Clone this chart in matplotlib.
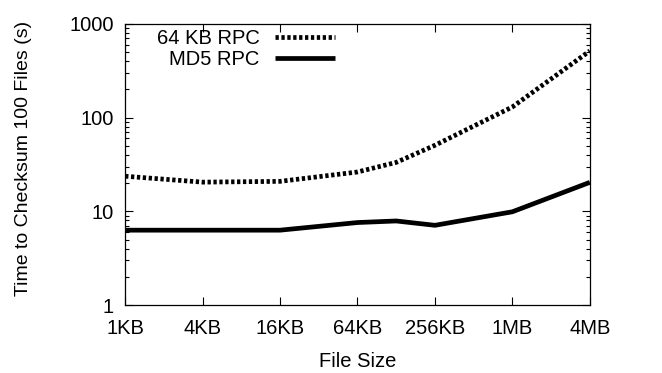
import matplotlib
matplotlib.use("Agg")
import matplotlib.pyplot as plt
from matplotlib.ticker import FixedLocator, LogLocator, NullFormatter, NullLocator

plt.rcParams['font.family'] = ['Liberation Sans', 'DejaVu Sans']

# File sizes in KB
rpc64_sizes = [1, 4, 16, 64, 128, 256, 1024, 4096]
rpc64_times = [23.7, 20.5, 20.9, 26.3, 33.3, 50.7, 130, 515]
md5_sizes = [1, 16, 64, 128, 256, 1024, 4096]
md5_times = [6.3, 6.3, 7.6, 7.9, 7.1, 9.9, 20.4]

xtick_vals = [1, 4, 16, 64, 256, 1024, 4096]
xtick_labels = ['1KB', '4KB', '16KB', '64KB', '256KB', '1MB', '4MB']
ytick_vals = [1, 10, 100, 1000]
ytick_labels = ['1', '10', '100', '1000']

FS = 14.5

fig = plt.figure(figsize=(6.62, 3.73), dpi=100)
ax = fig.add_axes([0.189, 0.182, 0.702, 0.754])

ax.plot(rpc64_sizes, rpc64_times, color='black', lw=3.4,
        linestyle=(0, (0.7, 0.55)), dash_capstyle='butt', label='64 KB RPC')
ax.plot(md5_sizes, md5_times, color='black', lw=3.4, solid_capstyle='butt',
        label='MD5 RPC')

ax.set_xscale('log', base=2)
ax.set_yscale('log')
ax.set_xlim(1, 4096)
ax.set_ylim(1, 1000)

ax.xaxis.set_major_locator(FixedLocator(xtick_vals))
ax.set_xticklabels(xtick_labels)
ax.xaxis.set_minor_locator(NullLocator())
ax.yaxis.set_major_locator(FixedLocator(ytick_vals))
ax.set_yticklabels(ytick_labels)
ax.yaxis.set_minor_locator(LogLocator(base=10, subs=range(2, 10)))
ax.yaxis.set_minor_formatter(NullFormatter())

ax.tick_params(which='both', direction='in', top=True, right=True,
               labelsize=FS, width=0.8)
ax.tick_params(which='major', length=6)
ax.tick_params(which='minor', length=3)
ax.tick_params(axis='x', which='major', pad=10)
ax.tick_params(axis='y', which='major', pad=8)
for s in ax.spines.values():
    s.set_linewidth(0.9)

ax.set_xlabel('File Size', fontsize=FS)
ax.set_ylabel('Time to Checksum 100 Files (s)', fontsize=14)
ax.xaxis.set_label_coords(0.5, -0.167)
ax.yaxis.set_label_coords(-0.2, 0.52)

leg = ax.legend(loc='upper right', bbox_to_anchor=(0.452, 0.981),
                frameon=False, markerfirst=False,
                fontsize=FS, handlelength=3.0, borderaxespad=0.0,
                borderpad=0.0, labelspacing=0.1, handletextpad=0.75)
for t in leg.get_texts():
    t.set_ha('right')
leg._legend_box.align = 'right'

fig.savefig('out.png', dpi=100)
